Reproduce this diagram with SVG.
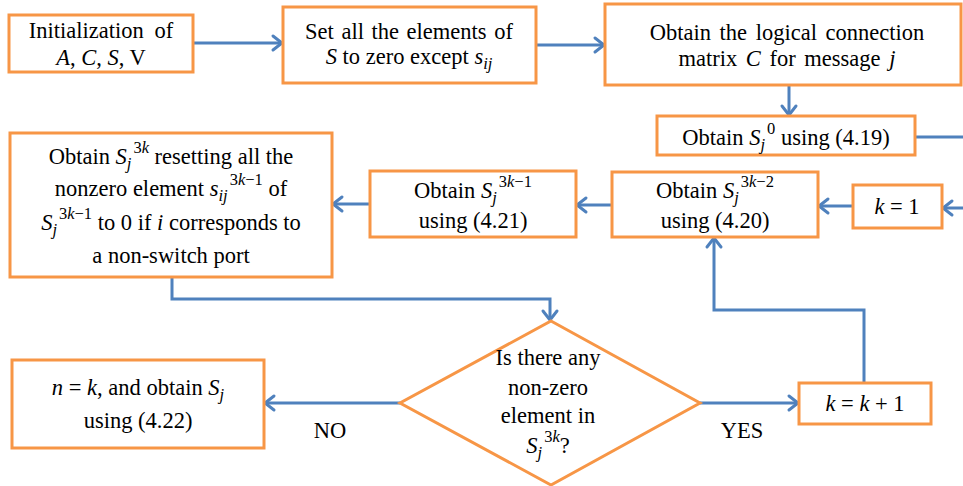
<svg xmlns="http://www.w3.org/2000/svg" width="963" height="486" viewBox="0 0 963 486">
<style>
.box{fill:#fff;stroke:#F79646;stroke-width:3}
.con{fill:none;stroke:#4F81BD;stroke-width:3;marker-end:url(#arr)}
text{font-family:'Liberation Serif',serif;font-size:22.5px;fill:#000;text-anchor:middle}
.i{font-style:italic}
.s{font-size:16.5px}
</style>
<defs>
<marker id="arr" markerUnits="userSpaceOnUse" markerWidth="20" markerHeight="20" viewBox="-12 -10 14 20" refX="0" refY="0" orient="auto">
<path d="M-9,-7 L0,0 L-9,7" fill="none" stroke="#4F81BD" stroke-width="3" stroke-linecap="round" stroke-linejoin="miter"/>
</marker>
</defs>
<rect width="963" height="486" fill="#fff"/>

<g id="connectors">
<path class="con" d="M193,43 L282,43"/>
<path class="con" d="M536,45 L604,45"/>
<path class="con" d="M789,85 L789,115"/>
<path class="con" d="M915,137 L980,137 L980,208 L943,208"/>
<path class="con" d="M853,206 L819,206"/>
<path class="con" d="M612,205 L577,205"/>
<path class="con" d="M370,204 L333,204"/>
<path class="con" d="M172,277 L172,299 L550,299 L550,320"/>
<path class="con" d="M400,403 L265,403"/>
<path class="con" d="M700,403 L798,403"/>
<path class="con" d="M864,383 L864,310 L714,310 L714,238"/>
</g>

<g id="init">
<rect class="box" x="9" y="15" width="184" height="57"/>
<text x="101" y="38" word-spacing="5">Initialization of</text>
<text x="101" y="65"><tspan class="i">A</tspan>, <tspan class="i">C</tspan>, <tspan class="i">S</tspan>, V</text>
</g>

<g id="setzero">
<rect class="box" x="283" y="7" width="253" height="76"/>
<text x="409" y="39" word-spacing="2">Set all the elements of</text>
<text x="409" y="64"><tspan class="i">S</tspan> to zero except <tspan class="i">s</tspan><tspan class="i s" dy="5">ij</tspan></text>
</g>

<g id="logical">
<rect class="box" x="605" y="4" width="356" height="81"/>
<text x="787" y="40" word-spacing="3">Obtain the logical connection</text>
<text x="787" y="66" word-spacing="3">matrix <tspan class="i">C</tspan> for message <tspan class="i">j</tspan></text>
</g>

<g id="s0">
<rect class="box" x="657" y="116" width="258" height="39"/>
<text x="786" y="145">Obtain <tspan class="i">S</tspan><tspan class="i s" dy="5">j</tspan><tspan class="s" dx="2" dy="-16">0</tspan><tspan dy="11"> using (4.19)</tspan></text>
</g>

<g id="k1">
<rect class="box" x="853" y="185" width="89" height="43"/>
<text x="897" y="214"><tspan class="i">k</tspan> = 1</text>
</g>

<g id="s3k2">
<rect class="box" x="612" y="172" width="206" height="65"/>
<text x="715" y="198">Obtain <tspan class="i">S</tspan><tspan class="i s" dy="5">j</tspan><tspan class="s" dx="2" dy="-16">3<tspan class="i">k</tspan>−2</tspan></text>
<text x="715" y="228">using (4.20)</text>
</g>

<g id="s3k1">
<rect class="box" x="370" y="171" width="206" height="66"/>
<text x="473" y="198">Obtain <tspan class="i">S</tspan><tspan class="i s" dy="5">j</tspan><tspan class="s" dx="2" dy="-16">3<tspan class="i">k</tspan>−1</tspan></text>
<text x="473" y="228">using (4.21)</text>
</g>

<g id="s3k">
<rect class="box" x="10" y="133" width="322" height="144"/>
<text x="171" y="164">Obtain <tspan class="i">S</tspan><tspan class="i s" dy="5">j</tspan><tspan class="s" dx="2" dy="-16">3<tspan class="i">k</tspan></tspan><tspan dy="11"> resetting all the</tspan></text>
<text x="171" y="196">nonzero element <tspan class="i">s</tspan><tspan class="i s" dy="5">ij</tspan><tspan class="s" dx="2" dy="-16">3<tspan class="i">k</tspan>−1</tspan><tspan dy="11"> of</tspan></text>
<text x="171" y="230"><tspan class="i">S</tspan><tspan class="i s" dy="5">j</tspan><tspan class="s" dx="2" dy="-16">3<tspan class="i">k</tspan>−1</tspan><tspan dy="11"> to 0 if </tspan><tspan class="i">i</tspan> corresponds to</text>
<text x="171" y="263">a non-switch port</text>
</g>

<g id="decision">
<path class="box" d="M551,321 L700,403 L551,485 L400,403 Z"/>
<text x="548" y="365">Is there any</text>
<text x="548" y="395">non-zero</text>
<text x="548" y="423">element in</text>
<text x="548" y="453"><tspan class="i">S</tspan><tspan class="i s" dy="5">j</tspan><tspan class="s" dx="2" dy="-16">3<tspan class="i">k</tspan></tspan><tspan dy="11">?</tspan></text>
</g>

<g id="nk">
<rect class="box" x="12" y="360" width="252" height="88"/>
<text x="138" y="395"><tspan class="i">n</tspan> = <tspan class="i">k</tspan>, and obtain <tspan class="i">S</tspan><tspan class="i s" dy="5">j</tspan></text>
<text x="138" y="428">using (4.22)</text>
</g>

<g id="kinc">
<rect class="box" x="799" y="383" width="132" height="41"/>
<text x="865" y="411"><tspan class="i">k</tspan> = <tspan class="i">k</tspan> + 1</text>
</g>

<g id="labels">
<text x="330" y="438">NO</text>
<text x="742" y="438">YES</text>
</g>
</svg>
